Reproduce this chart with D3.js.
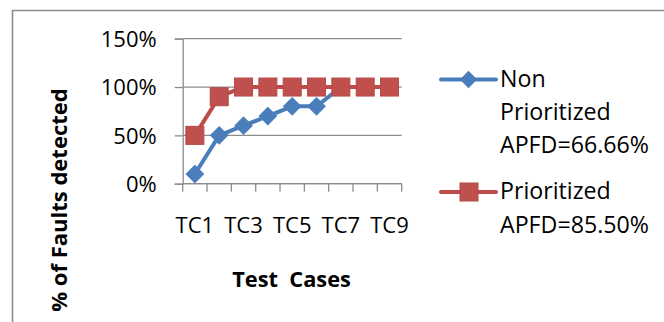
<!DOCTYPE html>
<html>
<head>
<meta charset="utf-8">
<script src="https://cdn.jsdelivr.net/npm/d3@7"></script>
<style>
  html, body { margin: 0; padding: 0; background: #fff; }
  svg { display: block; font-family: "Open Sans", "Liberation Sans", sans-serif; }
</style>
</head>
<body>
<svg id="chart" width="664" height="322"></svg>
<script>
// Test cases on the x axis
const categories = ["TC1", "TC2", "TC3", "TC4", "TC5", "TC6", "TC7", "TC8", "TC9"];
// Labels shown under the axis (every other case)
const xTickLabels = ["TC1", "TC3", "TC5", "TC7", "TC9"];
// Share of faults detected after each test case
const nonPrioritized = [0.10, 0.50, 0.60, 0.70, 0.80, 0.80, 1.00, 1.00, 1.00];
const prioritized    = [0.50, 0.90, 1.00, 1.00, 1.00, 1.00, 1.00, 1.00, 1.00];
const yTicks = [0, 0.5, 1.0, 1.5];
const seriesNames = [["Non", "Prioritized", "APFD=66.66%"], ["Prioritized", "APFD=85.50%"]];

const svg = d3.select("#chart");

// outer frame
svg.append("path")
  .attr("d", "M12.5,322 V10.5 H664")
  .attr("fill", "none")
  .attr("stroke", "#8c8c8c")
  .attr("stroke-width", 1.6);

const x = d3.scaleBand().domain(categories).range([182.7, 401.7]).padding(0);
const y = d3.scaleLinear().domain([0, 1.5]).range([183.7, 38.7]);
const grid = "#8c8c8c";

// horizontal gridlines
svg.append("g").selectAll("line").data(yTicks).join("line")
  .attr("x1", x.range()[0]).attr("x2", x.range()[1])
  .attr("y1", d => y(d)).attr("y2", d => y(d))
  .attr("stroke", grid).attr("stroke-width", 1.3);

// y axis
const yAxis = svg.append("g")
  .attr("transform", `translate(${x.range()[0]},0)`)
  .call(d3.axisLeft(y).tickValues(yTicks).tickFormat(d3.format(".0%")).tickSize(8).tickPadding(18));
yAxis.select(".domain").attr("stroke", grid).attr("stroke-width", 1.3);
yAxis.selectAll(".tick line").attr("stroke", grid).attr("stroke-width", 1.3);
yAxis.selectAll(".tick text").attr("font-size", 22).attr("fill", "#000")
  .attr("font-family", "Open Sans").attr("dy", "0.36em");

// x axis: tick marks at the category boundaries
const bounds = categories.map(c => x(c)).concat([x.range()[1]]);
svg.append("g").selectAll("line").data(bounds).join("line")
  .attr("x1", d => d).attr("x2", d => d)
  .attr("y1", y(0)).attr("y2", y(0) + 8)
  .attr("stroke", grid).attr("stroke-width", 1.3);
svg.append("line")
  .attr("x1", x.range()[0]).attr("x2", x.range()[1])
  .attr("y1", y(0)).attr("y2", y(0))
  .attr("stroke", grid).attr("stroke-width", 1.3);

const xAxis = svg.append("g")
  .attr("transform", `translate(0,${y(0)})`)
  .call(d3.axisBottom(x).tickValues(xTickLabels).tickSize(0).tickPadding(0));
xAxis.select(".domain").remove();
xAxis.selectAll(".tick text").attr("font-size", 22).attr("fill", "#000")
  .attr("font-family", "Open Sans").attr("dy", null).attr("y", 49.5);

// axis titles
svg.append("text")
  .attr("x", 291.5).attr("y", 287)
  .attr("text-anchor", "middle")
  .attr("font-size", 21.8).attr("font-weight", "bold")
  .attr("xml:space", "preserve")
  .style("white-space", "pre")
  .text("Test  Cases");

svg.append("text")
  .attr("transform", "translate(67,200) rotate(-90)")
  .attr("text-anchor", "middle")
  .attr("font-size", 22).attr("font-weight", "bold")
  .text("% of Faults detected");

const line = d3.line().x((d, i) => x(categories[i]) + x.bandwidth() / 2).y(d => y(d));

const blue = "#4A7EBB", red = "#BE4B48";

// non-prioritized series
svg.append("path").datum(nonPrioritized)
  .attr("d", line).attr("fill", "none")
  .attr("stroke", blue).attr("stroke-width", 4).attr("stroke-linejoin", "round").attr("stroke-linecap", "round");
const diamond = d3.symbol().type(d3.symbolSquare).size(150);
svg.append("g").selectAll("path").data(nonPrioritized).join("path")
  .attr("d", diamond())
  .attr("transform", (d, i) => `translate(${x(categories[i]) + x.bandwidth() / 2},${y(d)}) rotate(45)`)
  .attr("fill", blue).attr("stroke", "#4A7EBB").attr("stroke-width", 1);

// prioritized series
svg.append("path").datum(prioritized)
  .attr("d", line).attr("fill", "none")
  .attr("stroke", red).attr("stroke-width", 4).attr("stroke-linejoin", "round").attr("stroke-linecap", "round");
svg.append("g").selectAll("rect").data(prioritized).join("rect")
  .attr("x", (d, i) => x(categories[i]) + x.bandwidth() / 2 - 9)
  .attr("y", d => y(d) - 9)
  .attr("width", 18).attr("height", 18)
  .attr("fill", "#C0504D").attr("stroke", "#B64A47").attr("stroke-width", 1);

// legend
const lg = svg.append("g");
lg.append("line").attr("x1", 441).attr("x2", 496).attr("y1", 79.5).attr("y2", 79.5)
  .attr("stroke", blue).attr("stroke-width", 4).attr("stroke-linecap", "round");
lg.append("path").attr("d", diamond()).attr("transform", "translate(468.5,79.5) rotate(45)").attr("fill", blue);
lg.append("line").attr("x1", 441).attr("x2", 496).attr("y1", 192).attr("y2", 192)
  .attr("stroke", red).attr("stroke-width", 4).attr("stroke-linecap", "round");
lg.append("rect").attr("x", 460).attr("y", 183).attr("width", 18).attr("height", 18)
  .attr("fill", "#C0504D").attr("stroke", "#B64A47");

const legendBaselines = [[87, 120, 153], [199, 232.5]];
seriesNames.forEach((lines, s) => {
  lines.forEach((t, k) => {
    lg.append("text").attr("x", 500).attr("y", legendBaselines[s][k])
      .attr("font-size", 23.2).attr("fill", "#000").text(t);
  });
});
</script>
</body>
</html>
